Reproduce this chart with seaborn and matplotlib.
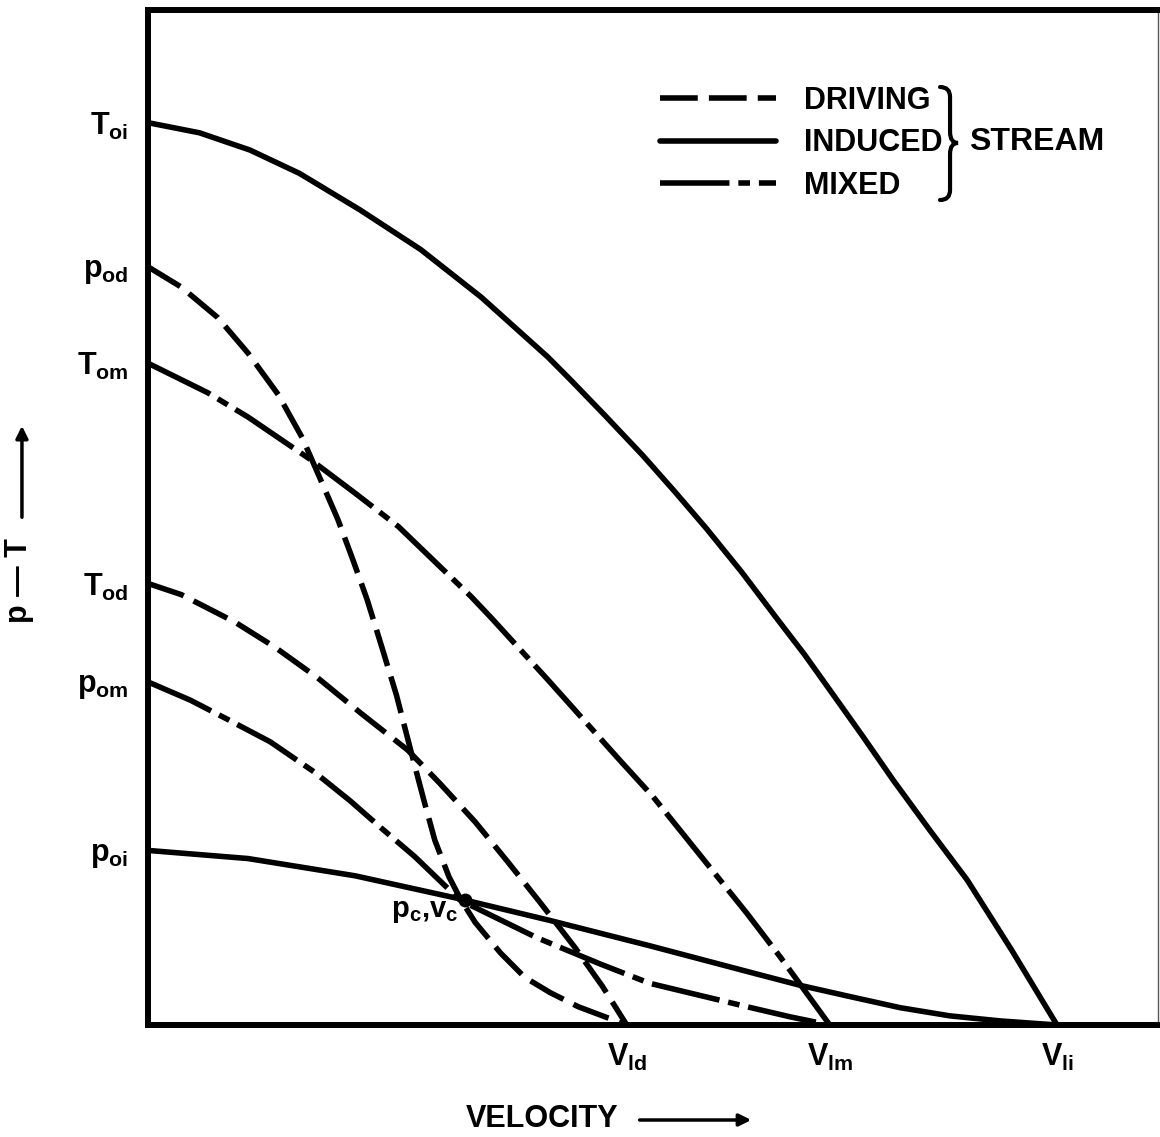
import numpy as np
import pandas as pd
import matplotlib
matplotlib.use("Agg")
import matplotlib.pyplot as plt
from matplotlib.lines import Line2D
from matplotlib.path import Path
from matplotlib.patches import PathPatch
import seaborn as sns

# ---------------- data (velocity, p-T in arbitrary units) ----------------
T_oi_v = [0, 5.1, 10.1, 15.0, 21.0, 27.0, 33.0, 39.6, 41.8, 45.2, 49.0, 52.2, 55.3, 58.8,
          62.3, 65.0, 67.8, 70.8, 73.8, 77.4, 81.1, 85.5, 90.0]
T_oi_y = [88.9, 87.9, 86.2, 83.9, 80.3, 76.4, 71.7, 65.8, 63.6, 60.1, 56.1, 52.5, 48.9, 44.6,
          40.0, 36.5, 32.6, 28.4, 24.1, 19.2, 14.3, 7.4, 0.0]

p_oi_v = [0, 9.9, 20.5, 31.0, 39.8, 49.7, 59.6, 64.6, 69.5, 74.5, 79.4, 84.4, 90.0]
p_oi_y = [17.2, 16.4, 14.7, 12.4, 10.3, 7.8, 5.2, 3.9, 2.8, 1.7, 0.9, 0.4, 0.0]

T_om_v = [0, 5.9, 9.9, 16.1, 20.5, 24.8, 32.0, 34.0, 39.6, 46.7, 50.0, 59.3, 62.6, 67.5]
T_om_y = [65.2, 62.3, 59.9, 55.7, 52.4, 49.1, 42.2, 40.1, 34.0, 26.1, 22.5, 11.0, 6.7, 0.0]

p_om_v = [0, 4.2, 7.9, 12.1, 16.5, 20.0, 23.1, 26.4, 30.9, 38.5, 44.8, 49.7, 59.3, 63.6, 67.5]
p_om_y = [33.8, 32.0, 30.1, 27.9, 24.9, 22.1, 19.4, 16.6, 12.3, 8.6, 6.0, 4.1, 1.8, 0.8, 0.0]

T_od_v = [0, 3.3, 8.6, 12.6, 16.8, 21.1, 25.7, 28.9, 32.4, 35.6, 38.8, 42.3, 45.0, 47.4]
T_od_y = [43.5, 42.4, 39.7, 37.2, 34.2, 30.7, 27.1, 23.8, 20.0, 16.1, 12.1, 7.6, 3.8, 0.0]

p_od_v = [0, 3.3, 6.9, 9.9, 12.9, 15.3, 17.1, 18.8, 20.3, 21.7, 23.1, 24.6, 26.0, 27.3,
          28.4, 29.8, 31.0, 32.4, 34.9, 37.3, 39.8, 42.6, 45.0, 47.4]
p_od_y = [74.7, 72.7, 69.7, 66.2, 62.1, 57.8, 53.7, 49.8, 45.8, 41.9, 37.4, 32.5, 27.1, 22.2,
          18.2, 14.6, 12.3, 10.1, 7.1, 4.7, 3.2, 1.8, 0.9, 0.0]

pc_v = [31.4]
pc_y = [12.3]

ytick_labels = [r"$\mathrm{T_{oi}}$", r"$\mathrm{p_{od}}$", r"$\mathrm{T_{om}}$",
                r"$\mathrm{T_{od}}$", r"$\mathrm{p_{om}}$", r"$\mathrm{p_{oi}}$"]
xtick_labels = [r"$\mathrm{V_{ld}}$", r"$\mathrm{V_{lm}}$", r"$\mathrm{V_{li}}$"]
stream_names = ["DRIVING", "INDUCED", "MIXED"]

curves = [
    ("T_oi", "INDUCED", T_oi_v, T_oi_y),
    ("p_oi", "INDUCED", p_oi_v, p_oi_y),
    ("T_om", "MIXED", T_om_v, T_om_y),
    ("p_om", "MIXED", p_om_v, p_om_y),
    ("T_od", "DRIVING", T_od_v, T_od_y),
    ("p_od", "DRIVING", p_od_v, p_od_y),
]

rows = []
for name, stream, vs, ys in curves:
    for v, y in zip(vs, ys):
        rows.append({"curve": name, "stream": stream, "velocity": v, "pT": y})
df = pd.DataFrame(rows)

# ---------------- style ----------------
sns.set_theme(style="white")
plt.rcParams["font.family"] = ["Liberation Sans", "DejaVu Sans"]
plt.rcParams["font.weight"] = "bold"
plt.rcParams["mathtext.fontset"] = "custom"
plt.rcParams["mathtext.rm"] = "Liberation Sans:bold"
plt.rcParams["mathtext.it"] = "Liberation Sans:bold"
plt.rcParams["mathtext.bf"] = "Liberation Sans:bold"
for k in ["text.color", "axes.labelcolor", "xtick.color", "ytick.color"]:
    plt.rcParams[k] = "black"
plt.rcParams["lines.solid_joinstyle"] = "round"
plt.rcParams["lines.dash_joinstyle"] = "round"

LW = 4.0
dash_styles = {"DRIVING": (6.8, 2.0), "INDUCED": "", "MIXED": (12.5, 1.6, 2.1, 1.6)}

fig = plt.figure(figsize=(11.6, 11.37), dpi=100)
ax = fig.add_axes([148 / 1160, 112 / 1137, 1010 / 1160, 1015 / 1137])

sns.lineplot(data=df, x="velocity", y="pT", hue="curve", style="stream",
             palette={c[0]: "black" for c in curves}, dashes=dash_styles,
             estimator=None, sort=False, linewidth=LW, legend=False, ax=ax)

ax.plot(pc_v, pc_y, "o", color="black", markersize=9)
ax.annotate(r"$\mathrm{p_c}$,$\mathrm{v_c}$", xy=(pc_v[0], pc_y[0]), xytext=(-5, 2),
            textcoords="offset points", ha="right", va="top", fontsize=21)

ax.set_xlim(0, 100)
ax.set_ylim(0, 100)

# ticks from curve start / end values
yticks = [T_oi_y[0], p_od_y[0], T_om_y[0], T_od_y[0], p_om_y[0], p_oi_y[0]]
xticks = [p_od_v[-1], p_om_v[-1], p_oi_v[-1]]
ax.set_yticks(yticks)
ax.set_yticklabels(ytick_labels, fontsize=22)
ax.set_xticks(xticks)
ax.set_xticklabels(xtick_labels, fontsize=22)
ax.tick_params(axis="y", length=0, pad=14)
ax.tick_params(axis="x", length=0, pad=12)

for s in ["left", "top", "bottom"]:
    ax.spines[s].set_linewidth(4.3)
    ax.spines[s].set_color("black")
ax.spines["right"].set_linewidth(1.0)
ax.spines["right"].set_color("#555555")

# axis labels
ax.set_xlabel("VELOCITY", fontsize=22, fontweight="bold")
ax.xaxis.set_label_coords(0.39, -0.078)
ax.set_ylabel("p — T", fontsize=22, fontweight="bold")
ax.yaxis.set_label_coords(-0.113, 0.438)
arrow = dict(arrowstyle="-|>", lw=2.5, color="black", mutation_scale=18)
ax.annotate("", xy=(0.600, -0.0936), xytext=(0.484, -0.0936),
            xycoords="axes fraction", textcoords="axes fraction", arrowprops=arrow,
            annotation_clip=False)
ax.annotate("", xy=(-0.1248, 0.593), xytext=(-0.1248, 0.4975),
            xycoords="axes fraction", textcoords="axes fraction", arrowprops=arrow,
            annotation_clip=False)

# legend
handles = [Line2D([0], [0], color="black", lw=LW, dashes=dash_styles["DRIVING"]),
           Line2D([0], [0], color="black", lw=LW, linestyle="-"),
           Line2D([0], [0], color="black", lw=LW, dashes=dash_styles["MIXED"])]
leg = ax.legend(handles, stream_names, loc="upper left", bbox_to_anchor=(0.507, 0.925),
                frameon=False, borderpad=0, borderaxespad=0, handlelength=3.8,
                handletextpad=0.9, labelspacing=0.4,
                prop={"family": "Liberation Sans", "weight": "bold", "size": 22})

# curly brace grouping the legend entries (decoration, axes fraction)
brace_verts = [(0.7842, 0.9241), (0.7941, 0.9241), (0.7941, 0.9143),
               (0.7941, 0.8798),
               (0.7941, 0.8690), (0.8020, 0.8690),
               (0.7941, 0.8690), (0.7941, 0.8581),
               (0.7941, 0.8227),
               (0.7941, 0.8128), (0.7842, 0.8128)]
brace_codes = [Path.MOVETO, Path.CURVE3, Path.CURVE3, Path.LINETO,
               Path.CURVE3, Path.CURVE3, Path.CURVE3, Path.CURVE3,
               Path.LINETO, Path.CURVE3, Path.CURVE3]
ax.add_patch(PathPatch(Path(brace_verts, brace_codes), fill=False, lw=3.0,
                       edgecolor="black", transform=ax.transAxes, capstyle="round"))
ax.text(0.813, 0.870, "STREAM", transform=ax.transAxes, fontsize=23,
        fontweight="bold", ha="left", va="center")

fig.savefig("out.png", dpi=100, facecolor="white")
